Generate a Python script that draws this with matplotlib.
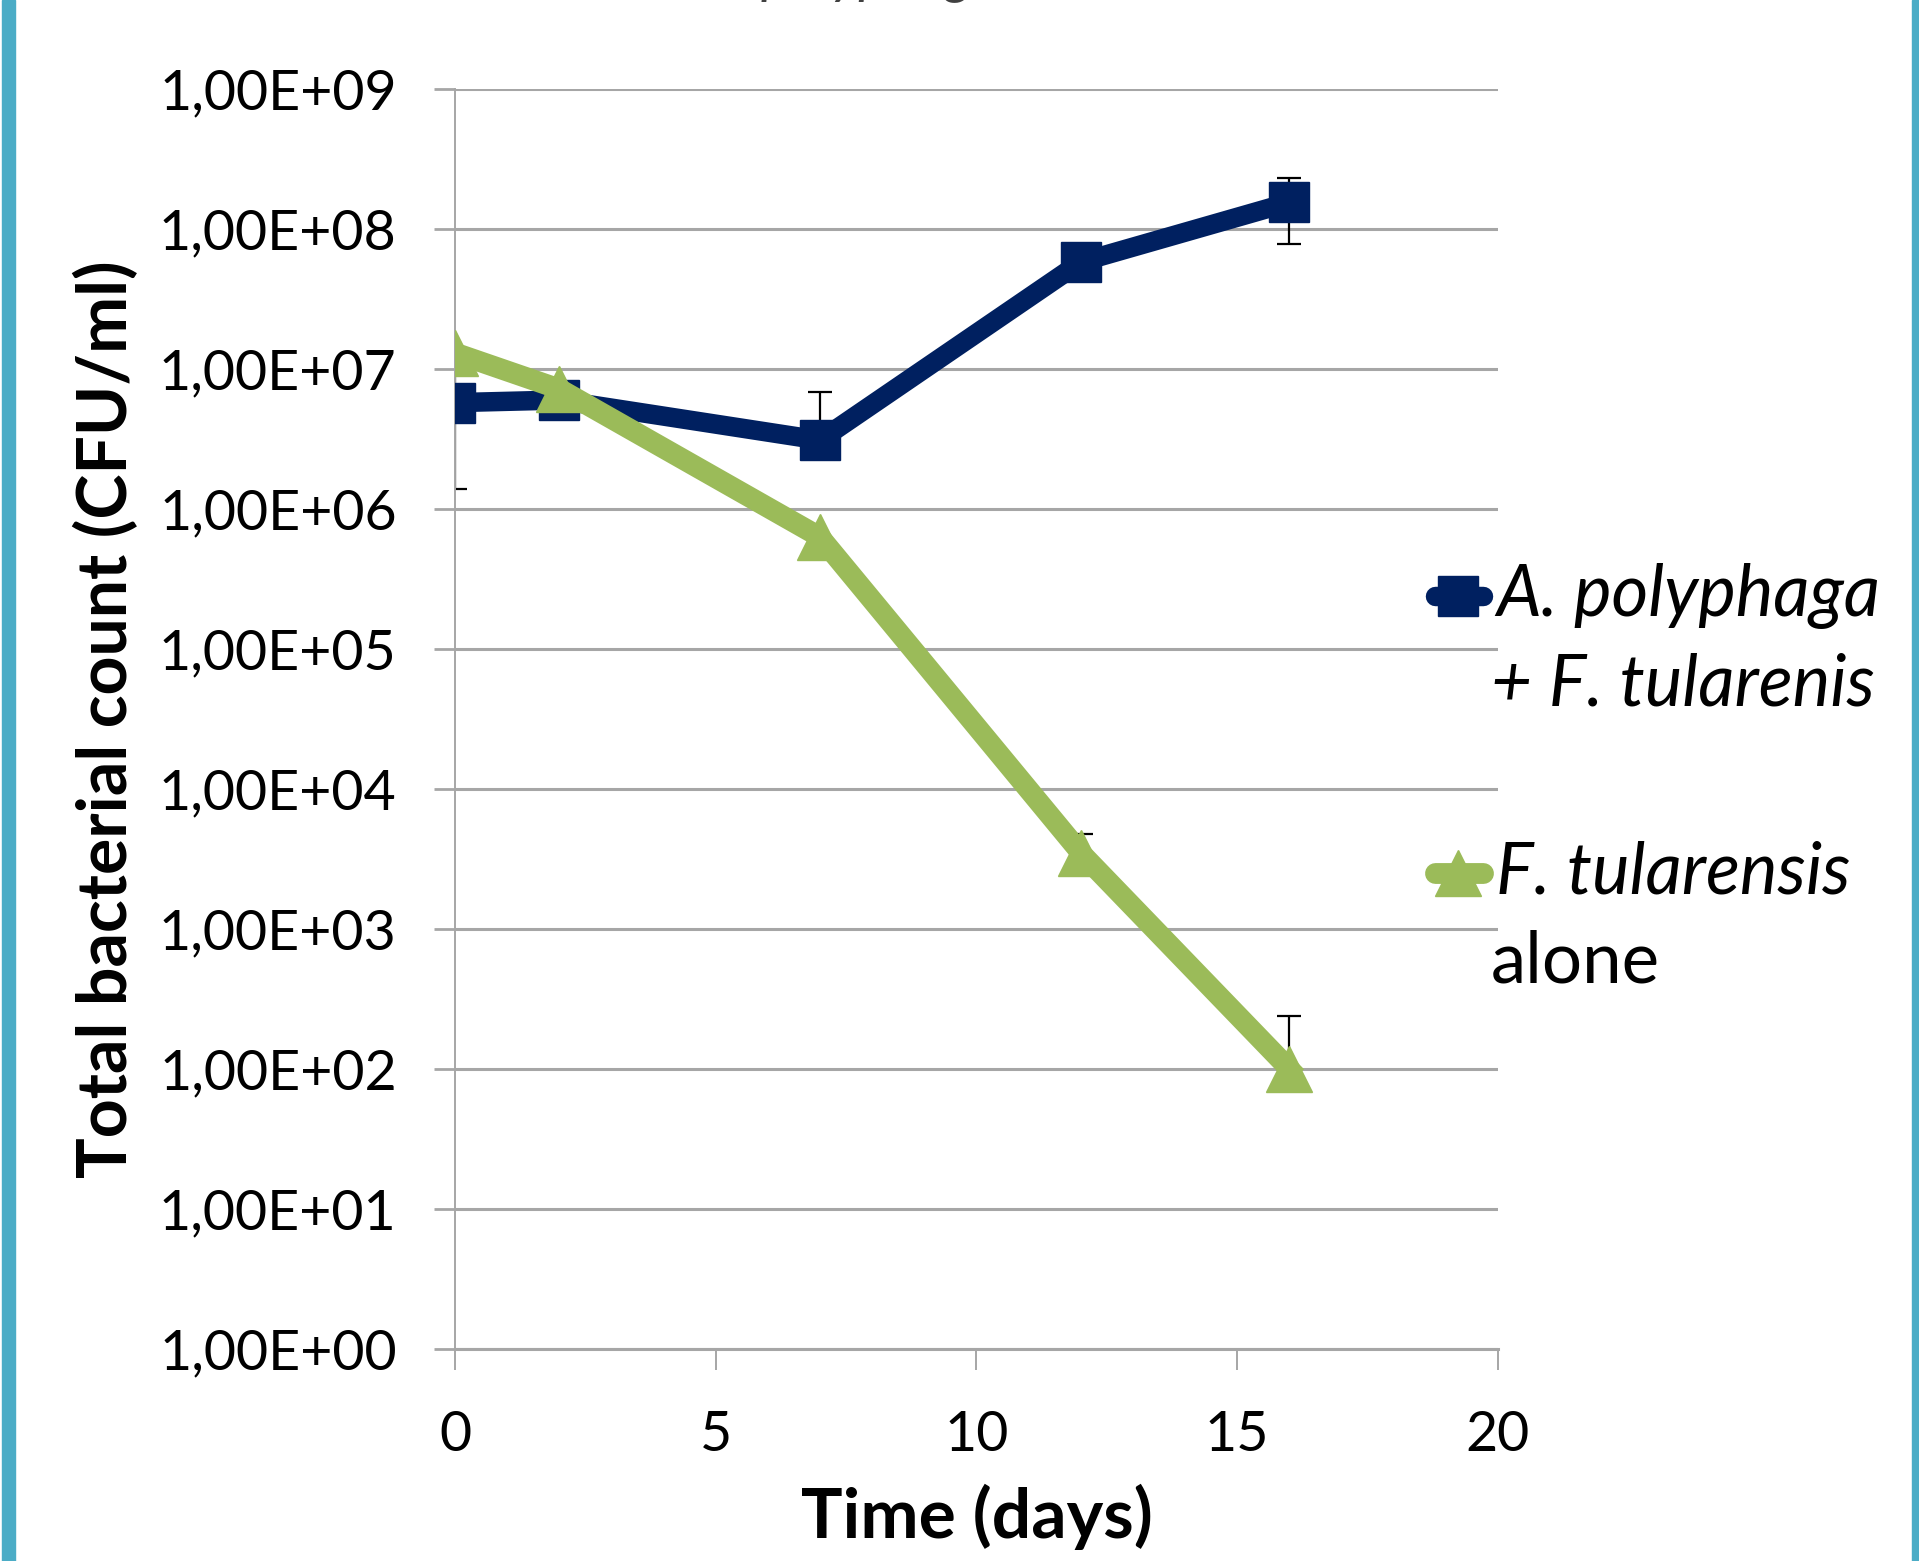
import matplotlib
matplotlib.use("Agg")
import matplotlib.pyplot as plt
from matplotlib.lines import Line2D
from matplotlib.ticker import FixedLocator, FuncFormatter, NullLocator
import numpy as np

# days sampled
days = [0, 2, 7, 12, 16]

# A. polyphaga + F. tularensis (CFU/ml)
co_culture = [5.75e6, 6.0e6, 3.1e6, 5.8e7, 1.55e8]
co_err_low = [4.35e6, 0.0, 0.3e6, 0.0, 7.7e7]
co_err_high = [4.35e6, 0.0, 3.8e6, 0.0, 7.5e7]

# F. tularensis alone (CFU/ml)
alone = [1.3e7, 7.2e6, 6.3e5, 3.5e3, 1.0e2]
alone_err_low = [0.0, 0.0, 0.0, 1.0e3, 10.0]
alone_err_high = [0.0, 0.0, 0.0, 1.3e3, 1.4e2]

y_decades = [1e0, 1e1, 1e2, 1e3, 1e4, 1e5, 1e6, 1e7, 1e8, 1e9]
x_ticks = [0, 5, 10, 15, 20]

NAVY = "#002060"
GREEN = "#9BBB59"
GRID = "#A6A6A6"
BORDER = "#4BACC6"

plt.rcParams.update({
    "font.family": ["Lato", "DejaVu Sans"],
})

fig = plt.figure(figsize=(19.19, 15.61), dpi=100)
ax = fig.add_axes([0.2371, 0.1358, 0.5435, 0.8072])

ax.set_yscale("log")
ax.set_ylim(1, 1e9)
ax.set_xlim(0, 20)

ax.errorbar(days, co_culture, yerr=[co_err_low, co_err_high], fmt="none",
            ecolor="black", elinewidth=1.6, capsize=8.5, capthick=1.6, zorder=2)
ax.errorbar(days, alone, yerr=[alone_err_low, alone_err_high], fmt="none",
            ecolor="black", elinewidth=1.6, capsize=8.5, capthick=1.6, zorder=2)

ax.plot(days, co_culture, color=NAVY, linewidth=14, marker="s", markersize=29,
        solid_joinstyle="miter", zorder=3)
ax.plot(days, alone, color=GREEN, linewidth=15, marker="^", markersize=33,
        zorder=4)

ax.yaxis.set_major_locator(FixedLocator(y_decades))
ax.yaxis.set_minor_locator(NullLocator())
ax.yaxis.set_major_formatter(FuncFormatter(
    lambda v, p: "1,00E+%02d" % int(round(np.log10(v)))))
ax.set_xticks(x_ticks)

ax.grid(axis="y", color=GRID, linewidth=2.2)
ax.set_axisbelow(True)
for side in ["top", "right"]:
    ax.spines[side].set_visible(False)
ax.spines["left"].set_color(GRID)
ax.spines["left"].set_linewidth(1.4)
ax.spines["bottom"].set_color(GRID)
ax.spines["bottom"].set_linewidth(2.2)

ax.tick_params(axis="y", direction="out", length=15, width=2.0, color=GRID,
               labelsize=40, pad=27)
ax.tick_params(axis="x", direction="out", length=15, width=1.4, color=GRID,
               labelsize=40, pad=29)

ax.set_ylabel("Total bacterial count (CFU/ml)", fontsize=49, fontweight="bold",
              labelpad=14)
ax.set_xlabel("Time (days)", fontsize=50, fontweight="bold", labelpad=16)

# cut-off title at top edge
fig.text(0.365, 1.006, "A. polyphaga", fontsize=40, style="italic",
         color="#404040", va="baseline", ha="left")

# legend drawn by hand so the marker sits on the first text line
entries = [
    (NAVY, "s", 29, 14, ["A. polyphaga", "+ F. tularenis"], ["italic", "italic"], 0.618),
    (GREEN, "^", 33, 15, ["F. tularensis", "alone"], ["italic", "normal"], 0.441),
]
for color, mk, ms, lw, lines, styles, y0 in entries:
    fig.add_artist(Line2D([0.748, 0.760, 0.773], [y0, y0, y0], transform=fig.transFigure,
                          color=color, linewidth=lw, solid_capstyle="round",
                          marker=mk, markersize=ms, markevery=[1]))
    for k, (txt, st) in enumerate(zip(lines, styles)):
        fig.text(0.7796 if k == 0 else 0.777, y0 - k * 0.057, txt, fontsize=51,
                 style=st, va="center", ha="left")

# cyan frame strips on the sides
fig.add_artist(plt.Rectangle((0.001, 0), 0.0068, 1, transform=fig.transFigure,
                             color=BORDER, zorder=10))
fig.add_artist(plt.Rectangle((0.9965, 0), 0.0035, 1, transform=fig.transFigure,
                             color=BORDER, zorder=10))

fig.savefig("out.png", dpi=100)
